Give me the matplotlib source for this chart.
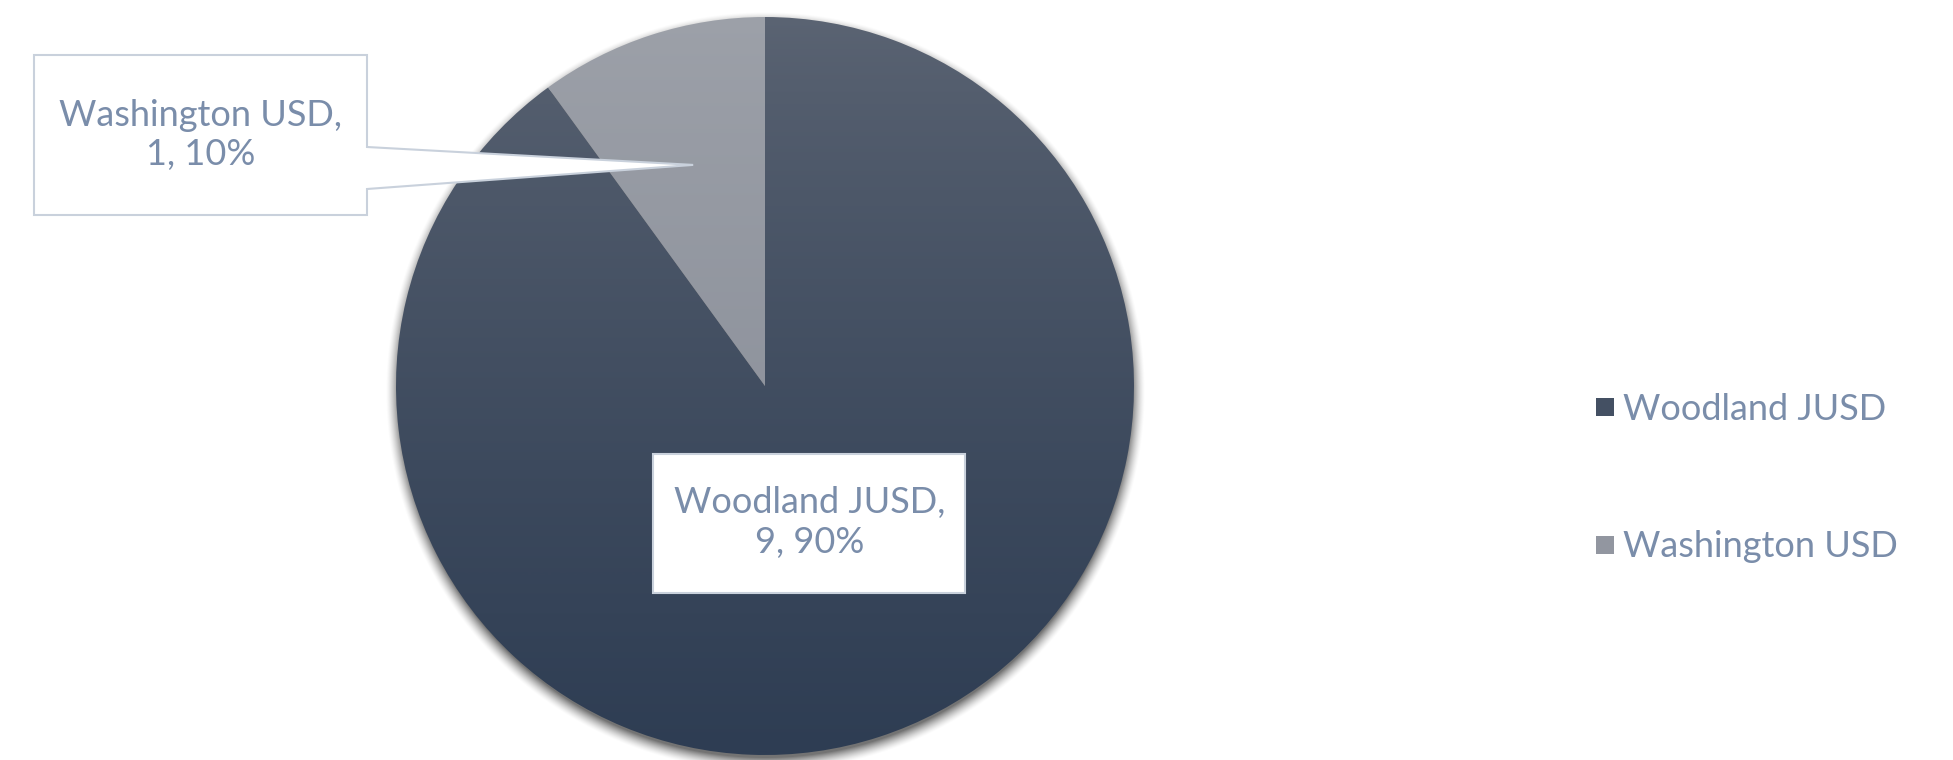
import numpy as np
import matplotlib.pyplot as plt
import matplotlib.colors as mcolors
from matplotlib.patches import Polygon, Rectangle
from matplotlib.lines import Line2D

# data
districts = ["Woodland JUSD", "Washington USD"]
counts = [9, 1]

# colors (top, bottom of each gradient)
grad_colors = [("#5b6473", "#2e3d53"), ("#9da1a9", "#868b96")]
text_color = "#7a8daa"
edge_color = "#c9d1dc"

W, H = 1953, 760
fig = plt.figure(figsize=(W / 100, H / 100), dpi=100)
ax = fig.add_axes([0, 0, 1, 1])

cx, cy, r = 765, 374, 369
total = sum(counts)

# soft shadow under the pie
yy, xx = np.mgrid[0:H, 0:W]
dist = np.hypot(xx - cx, (H - yy) - (cy - 5))
shadow = np.clip((r + 11 - dist) / 14, 0, 1) ** 1.5 * 0.55
sh = np.zeros((H, W, 4))
sh[..., 3] = shadow
ax.imshow(sh, extent=(0, W, 0, H), origin="upper", zorder=1)

wedges, _ = ax.pie(counts, center=(cx, cy), radius=r, startangle=90,
                   counterclock=False, colors=["none", "none"],
                   wedgeprops=dict(linewidth=0))

# gradient fill, clipped to each wedge
grad_y = np.linspace(0, 1, 256)[:, None] ** 0.8
for w, (c_top, c_bot) in zip(wedges, grad_colors):
    cmap = mcolors.LinearSegmentedColormap.from_list("g", [c_top, c_bot])
    im = ax.imshow(grad_y, cmap=cmap, aspect="auto",
                   extent=(cx - r, cx + r, cy - r, cy + r),
                   origin="upper", zorder=2)
    im.set_clip_path(w)

font = dict(family="Lato", fontweight="normal", color=text_color, fontsize=26)

# label positions from slice angles
angles = []
start = 90
for c in counts:
    span = 360 * c / total
    angles.append(np.deg2rad(start - span / 2))
    start -= span

labels = [f"{d},\n{c}, {round(100 * c / total)}%" for d, c in zip(districts, counts)]

# Woodland label inside slice
a0 = angles[0]
lx, ly = cx + 0.39 * r * np.cos(a0), cy + 0.39 * r * np.sin(a0)
ax.add_patch(Rectangle((lx - 156, ly - 70), 312, 139, facecolor="white",
                       edgecolor=edge_color, linewidth=1.5, zorder=5))
ax.text(lx, ly, labels[0], ha="center", va="center", zorder=6,
        linespacing=1.25, **font)

# Washington callout with pointer
a1 = angles[1]
tx, ty = cx + 0.63 * r * np.cos(a1), cy + 0.63 * r * np.sin(a1)
bx0, bx1, by0, by1 = 34, 367, H - 215, H - 55
callout = Polygon([(bx0, by0), (bx1, by0), (bx1, H - 189), (tx, ty),
                   (bx1, H - 147), (bx1, by1), (bx0, by1)],
                  closed=True, facecolor="white", edgecolor=edge_color,
                  linewidth=1.5, zorder=5)
ax.add_patch(callout)
ax.text((bx0 + bx1) / 2, (by0 + by1) / 2, labels[1], ha="center",
        va="center", zorder=6, linespacing=1.25, **font)

# legend
handles = [Line2D([], [], marker="s", linestyle="none", markersize=13,
                  markerfacecolor=mcolors.to_hex(np.mean([mcolors.to_rgb(c) for c in gc], axis=0)),
                  markeredgewidth=0) for gc in grad_colors]
leg = ax.legend(handles, districts, loc="center left",
                bbox_to_anchor=(1560 / W, (H - 478) / H), frameon=False,
                labelspacing=2.9, handletextpad=0.15, handlelength=0.7,
                prop=dict(family="Lato", weight="normal", size=26))
for t in leg.get_texts():
    t.set_color(text_color)

ax.set_xlim(0, W)
ax.set_ylim(0, H)
ax.set_aspect("auto")
ax.axis("off")

fig.savefig("out.png", dpi=100, facecolor="white")
